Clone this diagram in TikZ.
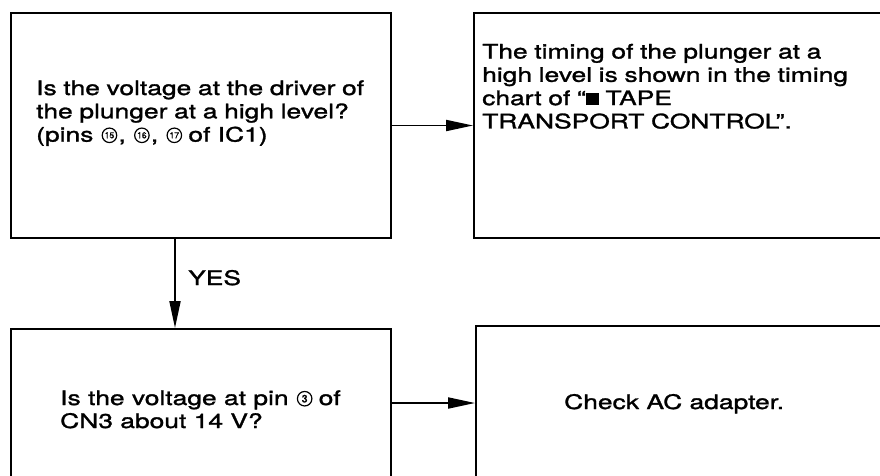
\documentclass[tikz,border=0pt]{standalone}
\usepackage{fontspec}
\setmainfont[FakeStretch=1.32,FakeBold=1.4]{TeX Gyre Heros}
\newfontfamily\cnfont[FakeBold=1]{TeX Gyre Heros}
\usetikzlibrary{arrows.meta,calc}
\begin{document}
\begin{tikzpicture}[x=1pt,y=-1pt,
 box/.style={draw,line width=1.9pt,rectangle,inner sep=0pt},
 txt/.style={anchor=base west,inner sep=0pt,align=left,text width=420pt,font=\fontsize{20}{23.3}\selectfont},
 ln/.style={anchor=base west,inner sep=0pt,font=\fontsize{20}{23.3}\selectfont},
 cn/.style={circle,draw,line width=1.2pt,minimum size=14.5pt,inner sep=0pt,anchor=west,font=\cnfont\fontsize{8.5}{9}\selectfont},
 arr/.style={line width=1.9pt,-{Triangle[length=27pt,width=11pt]}}]
\useasboundingbox (0,0) rectangle (880,475);
\clip (0,0) rectangle (880,475);
\fill[white] (0,0) rectangle (880,475);
\node[box,minimum width=380pt,minimum height=225pt] (b1) at (201,125.5) {};
\node[box,minimum width=426pt,minimum height=225pt] (b2) at (687,125.5) {};
\node[box,minimum width=380pt,minimum height=170pt] (b3) at (201,414) {};
\node[box,minimum width=424pt,minimum height=170pt] (b4) at (688,411) {};
% box 1 text
\node[txt] (t1) at (36,95) {Is the voltage at the driver of\\ the plunger at a high level?};
\node[ln] (p1) at (36,141.6) {(pins};
\node[cn] (c15) at ($(p1.base east)+(8,-6.3)$) {15};
\node[ln] (k1) at ($(c15.east |- p1.base)+(1,0)$) {,};
\node[cn] (c16) at ($(k1.base east)+(8,-6.3)$) {16};
\node[ln] (k2) at ($(c16.east |- p1.base)+(1,0)$) {,};
\node[cn] (c17) at ($(k2.base east)+(8,-6.3)$) {17};
\node[ln] (p2) at ($(c17.east |- p1.base)+(6,0)$) {of IC1)};
% box 2 text
\node[txt] (t2) at (482,58.5) {The timing of the plunger at a\\ high level is shown in the timing\\ chart of “\rule{13pt}{12.5pt} TAPE\\ TRANSPORT CONTROL”.};
% box 3 text
\node[ln] (t3) at (60,405) {Is the voltage at pin};
\node[cn,font=\cnfont\fontsize{10.5}{11}\selectfont] (c3) at ($(t3.base east)+(8,-6.3)$) {3};
\node[ln] (t3b) at ($(c3.east |- t3.base)+(6,0)$) {of};
\node[ln] (t3c) at (60,428) {CN3 about 14 V?};
% box 4 text
\node[ln] (t4) at (564,409) {Check AC adapter.};
\node[ln] (yes) at (188,285) {YES};
\coordinate (v) at (175,0);
\coordinate (h) at (0,403);
\draw[arr] (b1.east) -- (b2.west);
\draw[arr] (b1.south -| v) -- (b3.north -| v);
\draw[arr] (b3.east |- h) -- (b4.west |- h);
\end{tikzpicture}
\end{document}
